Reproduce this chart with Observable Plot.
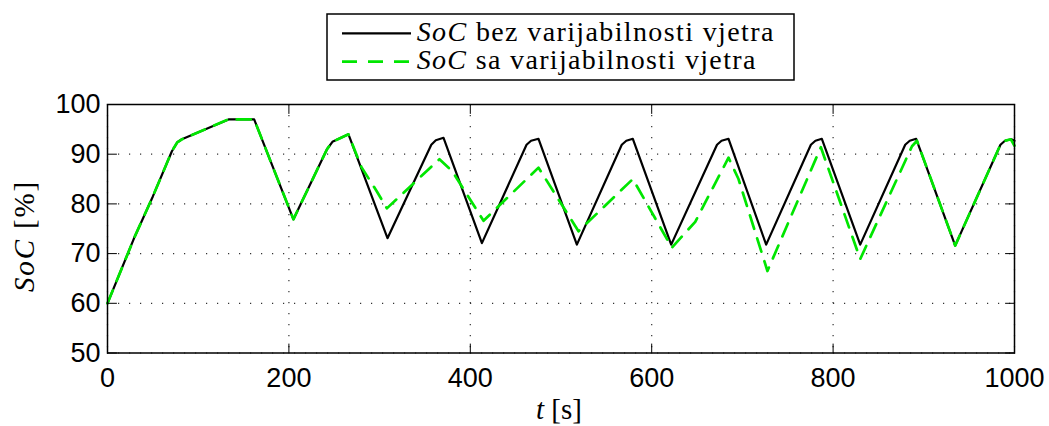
<!DOCTYPE html>
<html>
<head>
<meta charset="utf-8">
<script src="https://cdn.jsdelivr.net/npm/d3@7"></script>
<script src="https://cdn.jsdelivr.net/npm/@observablehq/plot@0.6"></script>
<style>
  html, body { margin: 0; padding: 0; background: #fff; }
  #wrap { position: relative; width: 1049px; height: 426px; }
  #wrap > svg { position: absolute; left: 0; top: 0; }
  #overlay { pointer-events: none; }
  #overlay text { white-space: pre; }
</style>
</head>
<body>
<div id="wrap"></div>
<script>
// ---- data ----
const xTicks = [0, 200, 400, 600, 800, 1000];
const yTicks = [50, 60, 70, 80, 90, 100];

// SoC without wind variability (black, solid)
const tBlack = [0, 30, 50, 71, 77, 82, 133.4, 161.7, 205, 242, 248, 265.7, 308.7,
  357, 362, 370.5, 412.8, 462, 467, 475.2, 517.5, 567, 572, 579.2, 621.5,
  672, 677, 684.7, 726.2, 775.5, 780.5, 787.6, 829.9, 879.5, 884.5, 891.6, 934.6,
  984.5, 989.5, 996.5, 1000];
const socBlack = [60, 73.4, 81.5, 90.6, 92.4, 93.0, 97.0, 97.0, 76.9, 91.0, 92.5, 94.0, 73.1,
  91.9, 92.8, 93.3, 72.1, 91.9, 92.7, 93.1, 71.8, 91.9, 92.7, 93.1, 71.8,
  91.9, 92.7, 93.1, 71.8, 91.9, 92.7, 93.1, 71.8, 91.9, 92.7, 93.1, 71.6,
  91.9, 92.7, 93.0, 92.7];

// SoC with wind variability (green, dashed)
const tGreen = [0, 30, 50, 71, 77, 82, 133.4, 161.7, 205, 242, 248, 265.7, 280, 297, 308,
  366, 380, 414.6, 475.2, 519.3, 579.2, 622.2, 648, 684.7, 695.7, 727.6, 786.5, 829.9,
  887, 892.5, 934.6, 984.5, 989.5, 996, 1000];
const socGreen = [60, 73.4, 81.5, 90.6, 92.4, 93.0, 97.0, 97.0, 76.9, 91.0, 92.5, 94.0, 87.4, 82.5, 79.1,
  89.0, 86.6, 76.6, 87.3, 74.5, 85.0, 71.2, 76.4, 89.3, 85.0, 66.5, 91.4, 68.9,
  91.6, 92.7, 71.6, 91.9, 92.7, 93.0, 91.7];

const seriesNames = ["bez varijabilnosti vjetra", "sa varijabilnosti vjetra"];

// ---- build ----
const black = tBlack.map((t, i) => ({t, v: socBlack[i]}));
const green = tGreen.map((t, i) => ({t, v: socGreen[i]}));
const xMin = xTicks[0], xMax = xTicks[xTicks.length - 1];
const yMin = yTicks[0], yMax = yTicks[yTicks.length - 1];
const GREEN = "#00e600";

const tickShape = { draw(context, l) { context.moveTo(0, 0); context.lineTo(0, -l); } };
const tickOpts = {length: 9, anchor: "start", shape: tickShape, stroke: "#000", strokeWidth: 1};
const gridOpts = {stroke: "#333", strokeOpacity: 1, strokeWidth: 1.2, strokeDasharray: "1.2 9.8"};

const chart = Plot.plot({
  width: 1049,
  height: 426,
  marginLeft: 107,
  marginRight: 35,
  marginTop: 104,
  marginBottom: 73.5,
  x: {domain: [xMin, xMax]},
  y: {domain: [yMin, yMax]},
  style: {fontFamily: "'Liberation Sans', Arial, sans-serif", fontSize: "27px", color: "#000", background: "transparent", overflow: "visible"},
  marks: [
    Plot.gridX(xTicks, gridOpts),
    Plot.gridY(yTicks, gridOpts),
    Plot.line(black, {x: "t", y: "v", stroke: "#000", strokeWidth: 2.2, strokeLinejoin: "round"}),
    Plot.line(green, {x: "t", y: "v", stroke: GREEN, strokeWidth: 2.7, strokeDasharray: "14 10", strokeLinejoin: "round"}),
    Plot.vector(xTicks, {x: d => d, y: () => yMin, rotate: 0, ...tickOpts}),
    Plot.vector(xTicks, {x: d => d, y: () => yMax, rotate: 180, ...tickOpts}),
    Plot.vector(yTicks, {x: () => xMin, y: d => d, rotate: 90, ...tickOpts}),
    Plot.vector(yTicks, {x: () => xMax, y: d => d, rotate: -90, ...tickOpts}),
    Plot.axisX(xTicks, {tickSize: 0, tickPadding: 15, label: null, tickFormat: d => String(d)}),
    Plot.axisY(yTicks, {tickSize: 0, tickPadding: 7, label: null, tickFormat: d => String(d)}),
    Plot.frame({stroke: "#000", strokeWidth: 1.5})
  ]
});
document.getElementById("wrap").appendChild(chart);

// ---- overlay: legend and axis titles (real text) ----
const ov = d3.select("#wrap").append("svg")
  .attr("id", "overlay").attr("width", 1049).attr("height", 426);

const SERIF = '"Liberation Serif"';

// legend box
ov.append("rect").attr("x", 327).attr("y", 14).attr("width", 467).attr("height", 66)
  .attr("fill", "#fff").attr("stroke", "#000").attr("stroke-width", 1.5);
ov.append("line").attr("x1", 342).attr("x2", 411).attr("y1", 33.3).attr("y2", 33.3)
  .attr("stroke", "#000").attr("stroke-width", 2.2);
ov.append("line").attr("x1", 342).attr("x2", 411).attr("y1", 61.7).attr("y2", 61.7)
  .attr("stroke", GREEN).attr("stroke-width", 2.7).attr("stroke-dasharray", "15 11");

// italic math part + upright rest, spread to a target width (Computer Modern is wider than Times)
function label(g, x, y, italic, rest, size, target, anchor) {
  const a = g.append("text").style("font-family", SERIF).style("font-size", size + "px")
    .style("font-style", "italic").attr("fill", "#000").text(italic);
  const b = g.append("text").style("font-family", SERIF).style("font-size", size + "px")
    .style("font-style", "normal").attr("fill", "#000").text(rest);
  const w1 = a.node().getComputedTextLength();
  const w2 = b.node().getComputedTextLength();
  const n = italic.length + rest.length;
  const ls = Math.max(0, (target - w1 - w2) / n);
  a.style("letter-spacing", ls + "px");
  b.style("letter-spacing", ls + "px");
  const wa = w1 + ls * italic.length;
  const total = w1 + w2 + ls * n;
  const x0 = anchor === "middle" ? x - total / 2 : x;
  a.attr("x", x0).attr("y", y);
  b.attr("x", x0 + wa).attr("y", y);
}
label(ov, 416.7, 40.7, "SoC", " " + seriesNames[0], 28, 358, "start");
label(ov, 416.7, 69, "SoC", " " + seriesNames[1], 28, 340, "start");

// x title
label(ov, 559, 419, "t", " [s]", 29, 44, "middle");

// y title
const gy = ov.append("g").attr("transform", "translate(34,236) rotate(-90)");
label(gy, 0, 0, "SoC", " [%]", 29, 112, "middle");
</script>
</body>
</html>
